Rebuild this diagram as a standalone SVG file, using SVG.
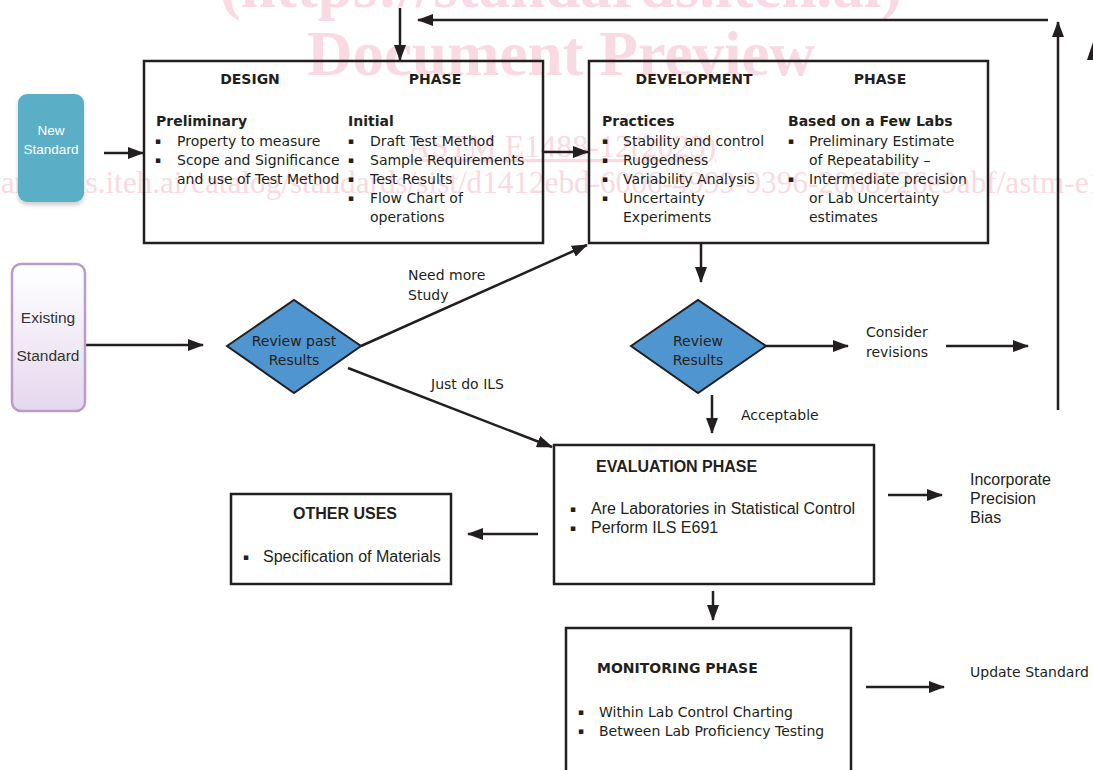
<svg xmlns="http://www.w3.org/2000/svg" width="1093" height="770" viewBox="0 0 1093 770">
<defs>
<marker id="ah" markerUnits="userSpaceOnUse" markerWidth="16" markerHeight="12" refX="15" refY="6" orient="auto">
<path d="M0,0 L16,6 L0,12 z" fill="#231f20"/>
</marker>
<linearGradient id="pg" x1="0" y1="0" x2="0" y2="1">
<stop offset="0" stop-color="#ffffff"/>
<stop offset="1" stop-color="#e4d8ee"/>
</linearGradient>
<filter id="sh" x="-20%" y="-20%" width="140%" height="140%">
<feDropShadow dx="0" dy="3" stdDeviation="2" flood-color="#000" flood-opacity="0.2"/>
</filter>
</defs>
<style>
.wm{font-family:"Liberation Serif",serif;fill:#f9dae2}
.box{fill:none;stroke:#231f20;stroke-width:2.5}
.t{font-family:"DejaVu Sans",sans-serif;font-size:14px;fill:#231f20}
.tb{font-family:"DejaVu Sans",sans-serif;font-size:14px;font-weight:bold;fill:#231f20}
.n{font-family:"Liberation Sans",sans-serif;font-size:16px;fill:#231f20}
.nb{font-family:"Liberation Sans",sans-serif;font-size:16px;font-weight:bold;fill:#231f20}
.bu{font-family:"DejaVu Sans",sans-serif;font-size:9px;fill:#231f20}
.ca{stroke:#231f20;stroke-width:2.5;fill:none;marker-end:url(#ah)}
.dia{fill:#4f95d0;stroke:#231f20;stroke-width:2}
</style>
<rect width="1093" height="770" fill="#ffffff"/>
<g id="watermark">
<text class="wm" x="561" y="7" font-size="63" font-weight="bold" text-anchor="middle">(https://standards.iteh.ai)</text>
<text class="wm" x="561" y="75" font-size="63" font-weight="bold" text-anchor="middle">Document Preview</text>
<text class="wm" x="562" y="157" font-size="32" text-anchor="middle" text-decoration="underline">ASTM E1488-12(2023)</text>
<text class="wm" x="574" y="193" font-size="31.2" text-anchor="middle">https://standards.iteh.ai/catalog/standards/sist/d1412ebd-6006-4999-9396-2068726e9abf/astm-e1488-122023</text>
</g>
<g id="connectors">
<line class="ca" x1="1048" y1="20" x2="418" y2="20"/>
<line class="ca" x1="400" y1="8" x2="400" y2="60"/>
<line class="ca" x1="1058" y1="410" x2="1058" y2="22"/>
<path d="M1093,42 L1087,60 L1093,60 z" fill="#231f20"/>
<line class="ca" x1="104" y1="153" x2="143" y2="153"/>
<line class="ca" x1="543" y1="152" x2="588" y2="152"/>
<line class="ca" x1="86" y1="345" x2="203" y2="345"/>
<line class="ca" x1="361" y1="346" x2="587" y2="245"/>
<line class="ca" x1="348" y1="368" x2="552" y2="447"/>
<line class="ca" x1="701" y1="244" x2="701" y2="282"/>
<line class="ca" x1="766" y1="346" x2="848" y2="346"/>
<line class="ca" x1="946" y1="346" x2="1028" y2="346"/>
<line class="ca" x1="712" y1="395" x2="712" y2="433"/>
<line class="ca" x1="538" y1="534" x2="468" y2="534"/>
<line class="ca" x1="888" y1="495" x2="942" y2="495"/>
<line class="ca" x1="713" y1="591" x2="713" y2="620"/>
<line class="ca" x1="866" y1="687" x2="944" y2="687"/>
<text class="t" x="408" y="280">Need more</text>
<text class="t" x="408" y="300">Study</text>
<text class="t" x="431" y="389">Just do ILS</text>
<text class="t" x="866" y="337">Consider</text>
<text class="t" x="866" y="357">revisions</text>
<text class="t" x="741" y="420">Acceptable</text>
<text class="n" x="970" y="485">Incorporate</text>
<text class="n" x="970" y="504">Precision</text>
<text class="n" x="970" y="523">Bias</text>
<text class="t" x="970" y="677">Update Standard</text>
</g>
<g id="new-standard">
<rect x="18" y="94" width="66" height="108" rx="9" fill="#5aafc6" filter="url(#sh)"/>
<text x="51" y="135" font-family="Liberation Sans, sans-serif" font-size="13.5" fill="#ffffff" text-anchor="middle">New</text>
<text x="51" y="154" font-family="Liberation Sans, sans-serif" font-size="13.5" fill="#ffffff" text-anchor="middle">Standard</text>
</g>
<g id="existing-standard">
<rect x="12" y="264" width="73" height="147" rx="9" fill="url(#pg)" stroke="#b89ccc" stroke-width="2.5"/>
<text x="48" y="323" font-family="Liberation Sans, sans-serif" font-size="15.5" fill="#333333" text-anchor="middle">Existing</text>
<text x="48" y="361" font-family="Liberation Sans, sans-serif" font-size="15.5" fill="#333333" text-anchor="middle">Standard</text>
</g>
<g id="design-phase">
<rect class="box" x="144" y="61" width="399" height="182"/>
<text class="tb" x="250" y="84" text-anchor="middle">DESIGN</text>
<text class="tb" x="435" y="84" text-anchor="middle">PHASE</text>
<text class="tb" x="156" y="126" font-size="15">Preliminary</text>
<text class="bu" x="155" y="144">▪</text><text class="t" x="177" y="146">Property to measure</text>
<text class="bu" x="155" y="163">▪</text><text class="t" x="177" y="165">Scope and Significance</text>
<text class="t" x="177" y="184">and use of Test Method</text>
<text class="tb" x="348" y="126" font-size="15">Initial</text>
<text class="bu" x="348" y="144">▪</text><text class="t" x="370" y="146">Draft Test Method</text>
<text class="bu" x="348" y="163">▪</text><text class="t" x="370" y="165">Sample Requirements</text>
<text class="bu" x="348" y="182">▪</text><text class="t" x="370" y="184">Test Results</text>
<text class="bu" x="348" y="201">▪</text><text class="t" x="370" y="203">Flow Chart of</text>
<text class="t" x="370" y="222">operations</text>
</g>
<g id="development-phase">
<rect class="box" x="589" y="61" width="399" height="182"/>
<text class="tb" x="694" y="84" text-anchor="middle">DEVELOPMENT</text>
<text class="tb" x="880" y="84" text-anchor="middle">PHASE</text>
<text class="tb" x="602" y="126" font-size="15">Practices</text>
<text class="bu" x="602" y="144">▪</text><text class="t" x="623" y="146">Stability and control</text>
<text class="bu" x="602" y="163">▪</text><text class="t" x="623" y="165">Ruggedness</text>
<text class="bu" x="602" y="182">▪</text><text class="t" x="623" y="184">Variability Analysis</text>
<text class="bu" x="602" y="201">▪</text><text class="t" x="623" y="203">Uncertainty</text>
<text class="t" x="623" y="222">Experiments</text>
<text class="tb" x="788" y="126" font-size="15">Based on a Few Labs</text>
<text class="bu" x="788" y="144">▪</text><text class="t" x="809" y="146">Preliminary Estimate</text>
<text class="t" x="809" y="165">of Repeatability –</text>
<text class="bu" x="788" y="182">▪</text><text class="t" x="809" y="184">Intermediate precision</text>
<text class="t" x="809" y="203">or Lab Uncertainty</text>
<text class="t" x="809" y="222">estimates</text>
</g>
<g id="review-past-results">
<polygon class="dia" points="227,346 294,300 361,346 294,393"/>
<text class="t" x="294" y="346" text-anchor="middle">Review past</text>
<text class="t" x="294" y="365" text-anchor="middle">Results</text>
</g>
<g id="review-results">
<polygon class="dia" points="631,346 698,300 766,346 698,393"/>
<text class="t" x="698" y="346" text-anchor="middle">Review</text>
<text class="t" x="698" y="365" text-anchor="middle">Results</text>
</g>
<g id="evaluation-phase">
<rect class="box" x="554" y="445" width="320" height="139"/>
<text class="nb" x="596" y="472">EVALUATION PHASE</text>
<text class="bu" x="570" y="512">▪</text><text class="n" x="591" y="514">Are Laboratories in Statistical Control</text>
<text class="bu" x="570" y="531">▪</text><text class="n" x="591" y="533">Perform ILS E691</text>
</g>
<g id="other-uses">
<rect class="box" x="231" y="494" width="220" height="90"/>
<text class="nb" x="345" y="519" text-anchor="middle">OTHER USES</text>
<text class="bu" x="243" y="560">▪</text><text class="n" x="263" y="562">Specification of Materials</text>
</g>
<g id="monitoring-phase">
<rect class="box" x="566" y="628" width="285" height="150"/>
<text class="tb" x="597" y="673" font-size="13.6">MONITORING PHASE</text>
<text class="bu" x="578" y="715">▪</text><text class="t" x="599" y="717">Within Lab Control Charting</text>
<text class="bu" x="578" y="734">▪</text><text class="t" x="599" y="736">Between Lab Proficiency Testing</text>
</g>
</svg>
